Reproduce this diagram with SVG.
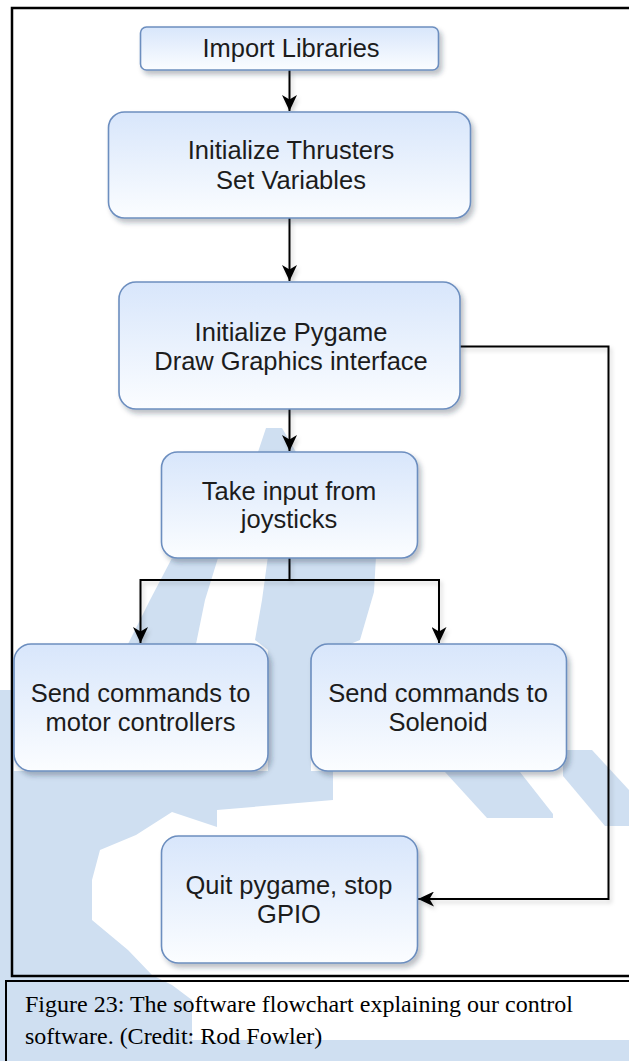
<svg xmlns="http://www.w3.org/2000/svg" width="629" height="1061" viewBox="0 0 629 1061">
  <defs>
    <linearGradient id="boxFill" x1="0" y1="0" x2="0" y2="1">
      <stop offset="0" stop-color="#d8e6fb"/>
      <stop offset="1" stop-color="#fbfdff"/>
    </linearGradient>
    <filter id="shadow" x="-10%" y="-10%" width="130%" height="140%">
      <feDropShadow dx="3" dy="4" stdDeviation="2.5" flood-color="#1a2a40" flood-opacity="0.3"/>
    </filter>
    <filter id="lineShadow" x="-10%" y="-10%" width="130%" height="130%">
      <feDropShadow dx="2" dy="3" stdDeviation="2" flood-color="#000" flood-opacity="0.18"/>
    </filter>
    <marker id="arrow" markerUnits="userSpaceOnUse" viewBox="0 0 16 15" refX="16" refY="7.5" markerWidth="16" markerHeight="15" orient="auto">
      <path d="M0,0 L16,7.5 L0,15 L4.5,7.5 Z" fill="#000"/>
    </marker>
    <style>
      .box { fill: url(#boxFill); stroke: #6c8ebf; stroke-width: 1.6; filter: url(#shadow); }
      .lbl { font-family: "Liberation Sans", Arial, sans-serif; font-size: 25.5px; fill: #1c1c1c; text-anchor: middle; }
      .conn { fill: none; stroke: #000; stroke-width: 2; }
      .wm { fill: #cfdff1; }
      .cap { font-family: "Liberation Serif", "Times New Roman", serif; font-size: 24px; fill: #000; }
    </style>
  </defs>

  <rect x="0" y="0" width="629" height="1061" fill="#fff"/>

  <g id="watermark">
    <polygon class="wm" points="266,428 282,428 296,452 258,452"/>
    <polygon class="wm" points="268,556 376,556 374,592 360,640 311,660 311,775 268,775 268,650 255,640 262,600"/>
    <polygon class="wm" points="172,558 218,558 205,600 196,644 128,644 150,600"/>
    <polygon class="wm" points="0,690 14,690 14,771 333,771 333,800 217,810 217,827 172,812 136,835 100,850 92,880 92,920 128,950 152,975 172,985 192,1000 192,1040 629,1040 629,1061 0,1061"/>
    <polygon class="wm" points="445,772 520,772 553,814 553,818 487,818"/>
    <polygon class="wm" points="563,750 592,750 629,790 629,826 605,826 563,776"/>
  </g>

  <g id="frames" fill="none" stroke="#000">
    <rect x="12" y="8" width="660" height="968" stroke-width="2.5"/>
    <rect x="6" y="981" width="660" height="120" stroke-width="2"/>
  </g>

  <g id="connectors" filter="url(#lineShadow)">
    <path class="conn" d="M289.5,70 V111" marker-end="url(#arrow)"/>
    <path class="conn" d="M289.5,218 V281" marker-end="url(#arrow)"/>
    <path class="conn" d="M289.5,409 V451" marker-end="url(#arrow)"/>
    <path class="conn" d="M289.5,558 V580 H140.5 V643" marker-end="url(#arrow)"/>
    <path class="conn" d="M289.5,580 H439 V643" marker-end="url(#arrow)"/>
    <path class="conn" d="M460,346.5 H608.5 V899 H418" marker-end="url(#arrow)"/>
  </g>

  <g id="node-import">
    <rect class="box" x="140.5" y="27" width="298" height="43" rx="6" ry="6"/>
    <text class="lbl" x="291" y="57">Import Libraries</text>
  </g>

  <g id="node-init-thrusters">
    <rect class="box" x="108.5" y="112" width="362" height="106" rx="16" ry="16"/>
    <text class="lbl" x="291" y="159">Initialize Thrusters</text>
    <text class="lbl" x="291" y="189">Set Variables</text>
  </g>

  <g id="node-init-pygame">
    <rect class="box" x="119" y="282" width="341" height="127" rx="17" ry="17"/>
    <text class="lbl" x="291" y="341">Initialize Pygame</text>
    <text class="lbl" x="291" y="370">Draw Graphics interface</text>
  </g>

  <g id="node-input">
    <rect class="box" x="161.5" y="452" width="256" height="106" rx="16" ry="16"/>
    <text class="lbl" x="289" y="500">Take input from</text>
    <text class="lbl" x="289" y="528">joysticks</text>
  </g>

  <g id="node-motor">
    <rect class="box" x="14" y="644" width="254" height="127" rx="17" ry="17"/>
    <text class="lbl" x="140.5" y="702">Send commands to</text>
    <text class="lbl" x="140.5" y="731">motor controllers</text>
  </g>

  <g id="node-solenoid">
    <rect class="box" x="311" y="644" width="255.5" height="127" rx="17" ry="17"/>
    <text class="lbl" x="438" y="702">Send commands to</text>
    <text class="lbl" x="438" y="731">Solenoid</text>
  </g>

  <g id="node-quit">
    <rect class="box" x="161.5" y="836" width="256" height="127" rx="17" ry="17"/>
    <text class="lbl" x="289" y="894">Quit pygame, stop</text>
    <text class="lbl" x="289" y="923">GPIO</text>
  </g>

  <g id="caption">
    <text class="cap" x="25" y="1012" textLength="548" lengthAdjust="spacingAndGlyphs">Figure 23: The software flowchart explaining our control</text>
    <text class="cap" x="25" y="1044">software. (Credit: Rod Fowler)</text>
  </g>
</svg>
